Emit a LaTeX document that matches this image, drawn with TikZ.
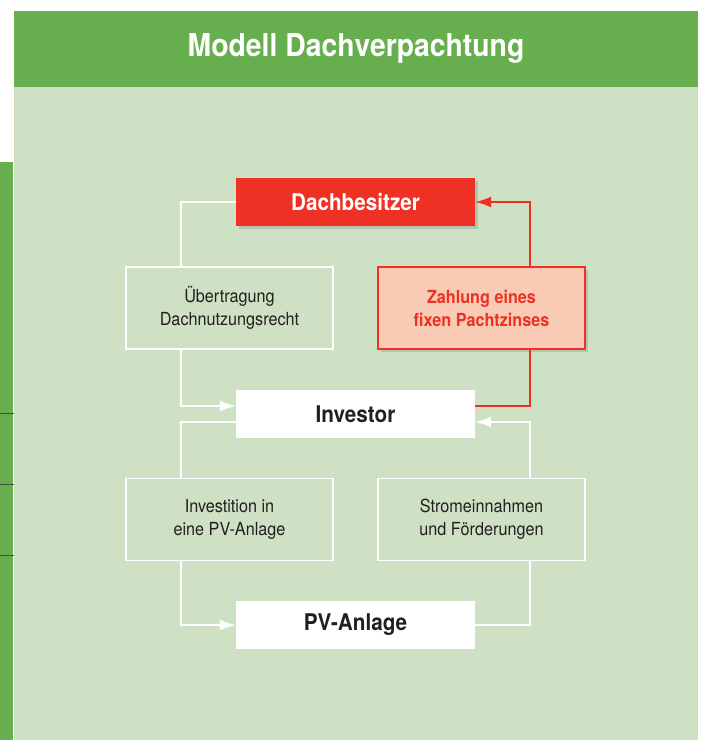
\documentclass[tikz,border=0pt]{standalone}
\usepackage{fontspec}
\setmainfont{TeX Gyre Heros}[FakeStretch=0.9]
\usepackage{tikz}
\usetikzlibrary{arrows.meta}
\usetikzlibrary{shadows}
\definecolor{headgreen}{RGB}{102,174,78}
\definecolor{panelgreen}{RGB}{206,225,196}
\definecolor{boxred}{RGB}{238,49,36}
\definecolor{salmon}{RGB}{249,202,180}
\definecolor{txtdark}{RGB}{35,31,32}
\definecolor{stripline}{RGB}{60,85,55}

\begin{document}
\begin{tikzpicture}[x=1pt,y=-1pt,
  mainbox/.style={minimum width=239pt,minimum height=48pt,inner sep=0pt,font=\fontsize{23}{27}\selectfont\bfseries},
  sidebox/.style={draw=white,line width=1.6pt,minimum width=207pt,minimum height=82pt,inner sep=0pt,align=center,text=txtdark,font=\fontsize{18}{23}\selectfont},
  wline/.style={draw=white,line width=1.8pt},
  rline/.style={draw=boxred,line width=1.8pt},
  tip/.style={-{Latex[length=16pt,width=11pt]}},
  shade/.style={drop shadow={shadow xshift=3pt,shadow yshift=-3pt,opacity=0.3}}]
\useasboundingbox (0,0) rectangle (705,740);
\fill[white] (0,0) rectangle (705,740);
% panel
\fill[headgreen] (14,11) rectangle (698,87);
\fill[panelgreen] (14,87) rectangle (698,740);
\fill[headgreen] (0,162) rectangle (13,740);
\foreach \yy in {413,484,555}
  \draw[stripline,line width=1pt] (0,\yy) -- (14,\yy);
\node[text=white,font=\fontsize{31.5}{36}\selectfont\bfseries] (title) at (356,48) {Modell Dachverpachtung};
% boxes
\node[mainbox,fill=boxred,text=white,shade] (dach) at (355.5,202) {Dachbesitzer};
\node[sidebox] (uber) at (229.5,308) {Übertragung\\Dachnutzungsrecht};
\node[sidebox,draw=boxred,fill=salmon,text=boxred,font=\fontsize{18}{23}\selectfont\bfseries,shade] (zins) at (481.5,308) {Zahlung eines\\fixen Pachtzinses};
\node[mainbox,fill=white,text=txtdark] (inv) at (355.5,414) {Investor};
\node[sidebox] (invpv) at (229.5,519.5) {Investition in\\eine PV-Anlage};
\node[sidebox] (strom) at (481.5,519.5) {Stromeinnahmen\\und Förderungen};
\node[mainbox,fill=white,text=txtdark] (pv) at (355.5,625) {PV-Anlage};
% connectors
\coordinate (lx) at (181,0);
\coordinate (rx) at (530,0);
\draw[wline] (dach.west) -| (lx |- uber.north);
\draw[wline,tip,white] (lx |- uber.south) |- ([yshift=8pt]inv.west);
\draw[wline] ([yshift=-8pt]inv.west) -| (lx |- invpv.north);
\draw[wline,tip,white] (lx |- invpv.south) |- (pv.west);
\draw[wline] (pv.east) -| (rx |- strom.south);
\draw[wline,tip,white] (rx |- strom.north) |- ([yshift=-8pt]inv.east);
\draw[rline] ([yshift=8pt]inv.east) -| (rx |- zins.south);
\draw[rline,tip,boxred] (rx |- zins.north) |- (dach.east);
\end{tikzpicture}
\end{document}
